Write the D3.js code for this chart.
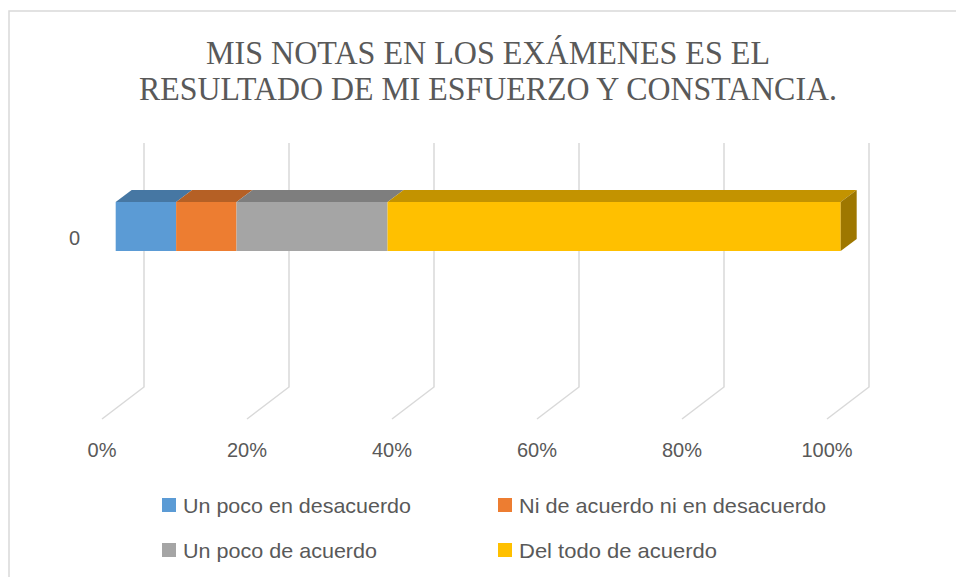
<!DOCTYPE html>
<html>
<head>
<meta charset="utf-8">
<script src="https://cdn.jsdelivr.net/npm/d3@7"></script>
<style>
  body { margin: 0; background: #fff; }
  text { fill: #595959; font-family: 'Liberation Sans', Arial, sans-serif; }
  svg text.title { font-family: 'Times New Roman', Times, 'Liberation Serif', Tinos, 'Noto Serif', 'DejaVu Serif', FreeSerif, serif; }
</style>
</head>
<body>
<svg id="chart"></svg>
<script>
var categories = ['0'];
var seriesNames = ['Un poco en desacuerdo', 'Ni de acuerdo ni en desacuerdo', 'Un poco de acuerdo', 'Del todo de acuerdo'];
var seriesValues = [2, 2, 5, 15];
var seriesColors = ['#5B9BD5', '#ED7D31', '#A5A5A5', '#FFC000'];
var tickValues = [0, 0.2, 0.4, 0.6, 0.8, 1];
var titleLines = ['MIS NOTAS EN LOS EXÁMENES ES EL', 'RESULTADO DE MI ESFUERZO Y CONSTANCIA.'];

function createStacked3DBar(x, y) {
  var svg = d3.select('#chart')
    .attr('width', x)
    .attr('height', y);

  // chart area border (right and bottom edges fall outside the window)
  svg.append('rect')
    .attr('x', 9).attr('y', 11)
    .attr('width', 980).attr('height', 600)
    .attr('fill', 'none')
    .attr('stroke', '#d9d9d9')
    .attr('stroke-width', 1.5);

  // title, squeezed like the source
  var titleWidths = [564, 698];
  svg.selectAll('.title')
    .data(titleLines)
    .enter().append('text')
    .attr('class', 'title')
    .attr('x', 488)
    .attr('y', function(d, i) { return 64 + i * 36; })
    .attr('text-anchor', 'middle')
    .style('font-size', '33px')
    .attr('textLength', function(d, i) { return titleWidths[i]; })
    .attr('lengthAdjust', 'spacingAndGlyphs')
    .text(function(d) { return d; });

  var total = d3.sum(seriesValues);
  var stack = [];
  var acc = 0;
  for (i = 0; i < seriesValues.length; i++) {
    stack.push({name: seriesNames[i], color: seriesColors[i], x0: acc / total, x1: (acc + seriesValues[i]) / total});
    acc += seriesValues[i];
  }

  // back wall scale, floor depth
  var xs = d3.scaleLinear().domain([0, 1]).range([144, 869]);
  var wallTop = 143, wallBottom = 387;
  var depth = {dx: -42, dy: 32};
  var ys = d3.scaleBand().domain(categories).range([177.5, 275.5]).padding(1 / 3);

  var grid = svg.append('g');
  grid.selectAll('path')
    .data(tickValues)
    .enter().append('path')
    .attr('d', function(d) {
      return 'M' + xs(d) + ',' + wallTop + 'V' + wallBottom +
        'l' + depth.dx + ',' + depth.dy;
    })
    .attr('fill', 'none')
    .attr('stroke', '#d9d9d9')
    .attr('stroke-width', 1.5);

  // bar sits between 29% and 67% of the depth
  var front = 0.674, back = 0.293;
  var fdx = depth.dx * front, bdx = depth.dx * back;
  var ddx = fdx - bdx, ddy = -12;

  var bar = svg.append('g');
  categories.forEach(function(c) {
    var top = ys(c), h = ys.bandwidth();
    stack.forEach(function(s, k) {
      var xa = xs(s.x0) + fdx, xb = xs(s.x1) + fdx;
      var col = d3.color(s.color);
      bar.append('path')
        .attr('d', 'M' + xa + ',' + top + 'l' + (-ddx) + ',' + ddy +
          'H' + (xb - ddx) + 'l' + ddx + ',' + (-ddy) + 'Z')
        .attr('fill', col.darker(0.75));
      bar.append('rect')
        .attr('x', xa).attr('y', top)
        .attr('width', xb - xa).attr('height', h)
        .attr('fill', s.color);
      if (k == stack.length - 1) {
        bar.append('path')
          .attr('d', 'M' + xb + ',' + top + 'l' + (-ddx) + ',' + ddy +
            'v' + h + 'l' + ddx + ',' + (-ddy) + 'Z')
          .attr('fill', col.darker(1.35));
      }
    });
    svg.append('text')
      .attr('x', 80)
      .attr('y', top + h / 2 + 18)
      .attr('text-anchor', 'end')
      .attr('font-size', 20)
      .text(c);
  });

  // axis labels at the front edge of the floor
  svg.selectAll('.tick')
    .data(tickValues)
    .enter().append('text')
    .attr('class', 'tick')
    .attr('x', function(d) { return xs(d) + depth.dx; })
    .attr('y', 457)
    .attr('text-anchor', 'middle')
    .attr('font-size', 20)
    .text(d3.format('.0%'));

  // legend, two columns
  var legendWidths = [228, 307, 194, 198];
  var legend = svg.selectAll('.legend')
    .data(stack)
    .enter().append('g')
    .attr('class', 'legend')
    .attr('transform', function(d, i) {
      return 'translate(' + (162 + (i % 2) * 336) + ',' + (513 + Math.floor(i / 2) * 45) + ')';
    });
  legend.append('rect')
    .attr('x', 0).attr('y', -15)
    .attr('width', 14).attr('height', 14)
    .attr('fill', function(d) { return d.color; });
  legend.append('text')
    .attr('x', 21).attr('y', 0)
    .attr('font-size', 21)
    .attr('textLength', function(d, i) { return legendWidths[i]; })
    .attr('lengthAdjust', 'spacingAndGlyphs')
    .text(function(d) { return d.name; });
}

createStacked3DBar(956, 577);
</script>
</body>
</html>
